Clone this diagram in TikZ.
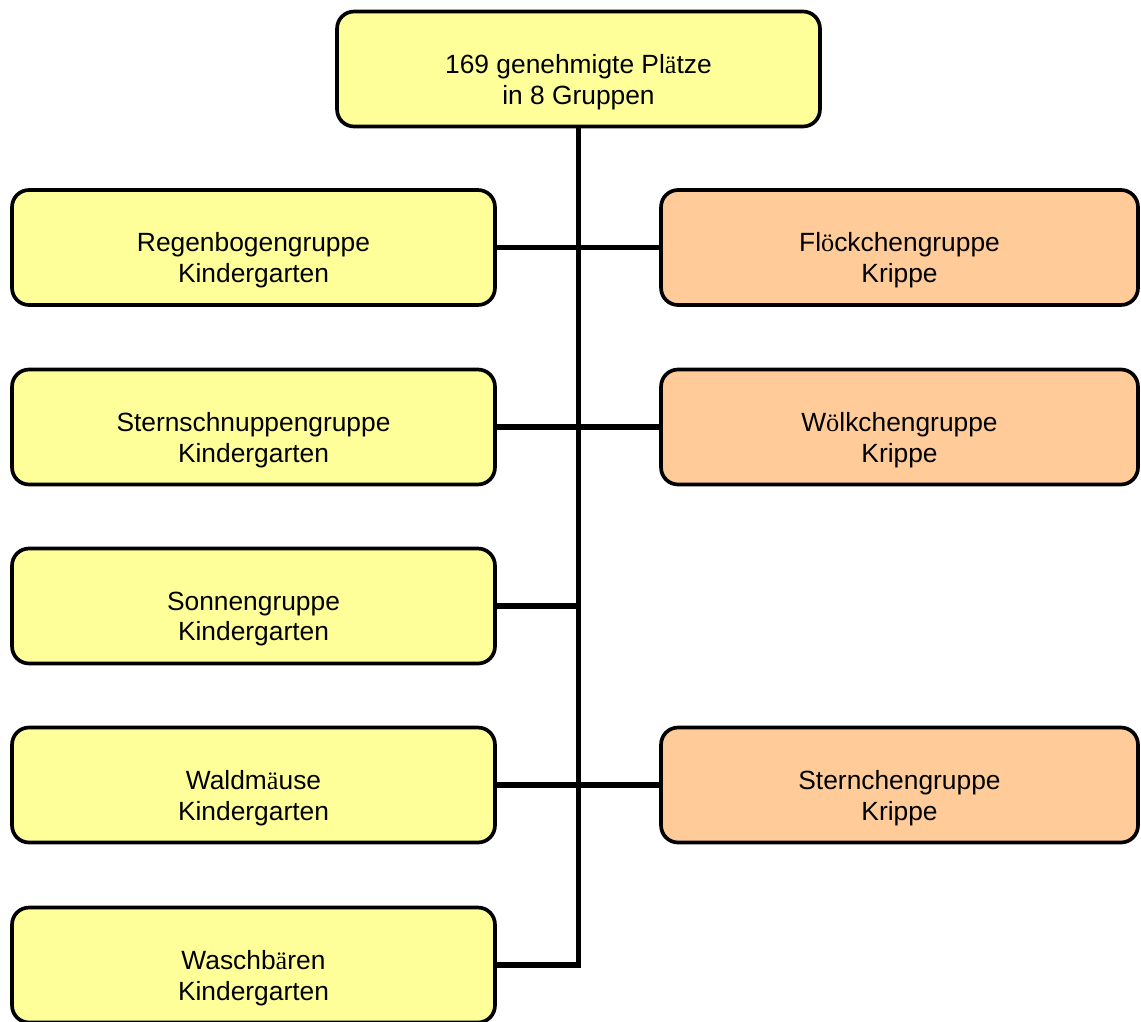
\documentclass[tikz,border=0pt]{standalone}
\usepackage{fontspec}
\setmainfont{Liberation Sans}
\newfontfamily\umlautfont{Liberation Serif}
\newcommand{\uml}[1]{{\umlautfont #1}}
\usepackage{xcolor}
\definecolor{kitayellow}{HTML}{FFFF99}
\definecolor{krippeorange}{HTML}{FFCC99}
\tikzset{
	group/.style={draw, line width=2.1pt, rounded corners=0.34cm,
		minimum width=9.66cm, minimum height=2.3cm},
	kita/.style={group, fill=kitayellow},
	krippe/.style={group, fill=krippeorange, minimum width=9.54cm},
	caption/.style={align=center, font=\fontsize{15}{17.6}\selectfont, yshift=-0.26cm},
	link/.style={line width=3.3pt},
	baseline}

\begin{document}
\begin{tikzpicture}[x=0.02cm, y=-0.02cm]
		\useasboundingbox (0,0) rectangle (1141,1021);
		
		% Kita
		\node[kita] (top) at (578.5,69) {};
		\node[caption] (top-t) at (top.center) {169 genehmigte Pl\uml{ä}tze\\in 8 Gruppen};
		
		% Kindergarten
		\node[kita] (regen) at (253.5,247.5) {};
		\node[kita] (stern) at (253.5,427) {};
		\node[kita] (sonne) at (253.5,606) {};
		\node[kita] (wald) at (253.5,785) {};
		\node[kita] (wasch) at (253.5,965) {};
		\node[caption] (regen-t) at (regen.center) {Regenbogengruppe\\Kindergarten};
		\node[caption] (stern-t) at (stern.center) {Sternschnuppengruppe\\Kindergarten};
		\node[caption] (sonne-t) at (sonne.center) {Sonnengruppe\\Kindergarten};
		\node[caption] (wald-t) at (wald.center) {Waldm\uml{ä}use\\Kindergarten};
		\node[caption] (wasch-t) at (wasch.center) {Waschb\uml{ä}ren\\Kindergarten};
		
		% Krippe
		\node[krippe] (flocke) at (899.5,247.5) {};
		\node[krippe] (wolke) at (899.5,427) {};
		\node[krippe] (sternchen) at (899.5,785) {};
		\node[caption] (flocke-t) at (flocke.center) {Fl\uml{ö}ckchengruppe\\Krippe};
		\node[caption] (wolke-t) at (wolke.center) {W\uml{ö}lkchengruppe\\Krippe};
		\node[caption] (sternchen-t) at (sternchen.center) {Sternchengruppe\\Krippe};
		
		\draw[link] (top.south) |- (wasch.east);
		\draw[link]
		(regen.east) -- (flocke.west)
		(stern.east) -- (wolke.west)
		(sonne.east) -- (sonne.east -| top.south)
		(wald.east) -- (sternchen.west)
		;
	\end{tikzpicture}
\end{document}
